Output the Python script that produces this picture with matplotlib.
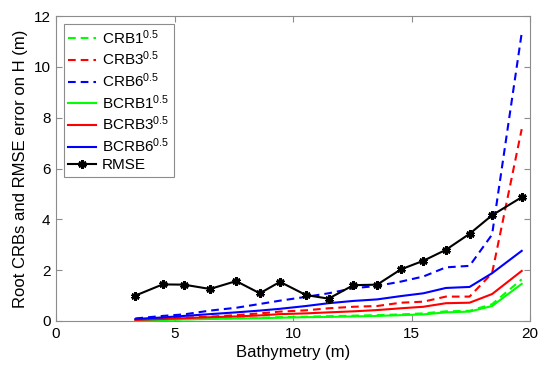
import matplotlib
matplotlib.use("Agg")
import matplotlib.pyplot as plt

plt.rcParams['font.family'] = ['Liberation Sans', 'DejaVu Sans']
plt.rcParams['mathtext.fontset'] = 'custom'
plt.rcParams['mathtext.rm'] = 'Liberation Sans'
plt.rcParams['mathtext.it'] = 'Liberation Sans'

depth = [3.35, 4.5, 5.4, 6.5, 7.6, 8.6, 9.45, 10.55, 11.5, 12.55, 13.55,
         14.55, 15.5, 16.45, 17.45, 18.4, 19.65]
rmse = [1.0, 1.44, 1.43, 1.26, 1.57, 1.09, 1.54, 1.02, 0.88, 1.41, 1.43,
        2.03, 2.37, 2.80, 3.43, 4.16, 4.87]
crb6 = [0.10, 0.20, 0.26, 0.41, 0.52, 0.67, 0.80, 0.95, 1.09, 1.29, 1.38,
        1.55, 1.75, 2.11, 2.17, 3.40, 11.33]
bcrb6 = [0.08, 0.14, 0.20, 0.27, 0.34, 0.41, 0.48, 0.59, 0.70, 0.79, 0.85,
         0.98, 1.09, 1.30, 1.34, 1.88, 2.76]
crb3 = [0.05, 0.10, 0.13, 0.17, 0.23, 0.30, 0.37, 0.42, 0.50, 0.56, 0.59,
        0.72, 0.76, 0.96, 0.96, 1.88, 7.55]
bcrb3 = [0.04, 0.08, 0.11, 0.15, 0.18, 0.22, 0.27, 0.30, 0.34, 0.38, 0.43,
         0.50, 0.56, 0.70, 0.72, 1.06, 1.97]
crb1 = [0.03, 0.05, 0.07, 0.09, 0.11, 0.13, 0.15, 0.17, 0.19, 0.21, 0.23,
        0.26, 0.30, 0.38, 0.40, 0.66, 1.64]
bcrb1 = [0.02, 0.04, 0.06, 0.08, 0.10, 0.11, 0.13, 0.15, 0.16, 0.18, 0.20,
         0.23, 0.26, 0.34, 0.37, 0.59, 1.46]

fig = plt.figure(figsize=(5.5, 3.75), dpi=100)
ax = fig.add_axes([56/550, 1-321/375, (530-56)/550, (321-16)/375])

lw = 1.5
dash = (3.7, 2.4)
ax.plot(depth, crb1, color=(0, 1, 0), lw=lw, dashes=dash, label=r'CRB1$^{0.5}$')
ax.plot(depth, crb3, color=(1, 0, 0), lw=lw, dashes=dash, label=r'CRB3$^{0.5}$')
ax.plot(depth, crb6, color=(0, 0, 1), lw=lw, dashes=dash, label=r'CRB6$^{0.5}$')
ax.plot(depth, bcrb1, color=(0, 1, 0), lw=lw, label=r'BCRB1$^{0.5}$')
ax.plot(depth, bcrb3, color=(1, 0, 0), lw=lw, label=r'BCRB3$^{0.5}$')
ax.plot(depth, bcrb6, color=(0, 0, 1), lw=lw, label=r'BCRB6$^{0.5}$')
ax.plot(depth, rmse, color='k', lw=lw, marker=(6, 2, 0), ms=6, mew=2,
        label='RMSE')

ax.set_xlim(0, 20)
ax.set_ylim(0, 12)
ax.set_xticks([0, 5, 10, 15, 20])
ax.set_yticks([0, 2, 4, 6, 8, 10, 12])
gray = '#8c8c8c'
for s in ax.spines.values():
    s.set_color(gray)
    s.set_linewidth(0.8)
ax.tick_params(direction='in', length=4, color=gray, labelsize=11,
               top=True, right=True, width=0.8, pad=4)
ax.set_xlabel('Bathymetry (m)', fontsize=12, labelpad=3)
ax.set_ylabel('Root CRBs and RMSE error on H (m)', fontsize=12, labelpad=4)

leg = ax.legend(loc='upper left', fontsize=11, handlelength=1.8,
                handletextpad=0.4, labelspacing=0.2, borderpad=0.3,
                borderaxespad=0.5, fancybox=False, framealpha=1)
leg.get_frame().set_edgecolor(gray)
leg.get_frame().set_linewidth(0.8)

fig.savefig('out.png', dpi=100)
